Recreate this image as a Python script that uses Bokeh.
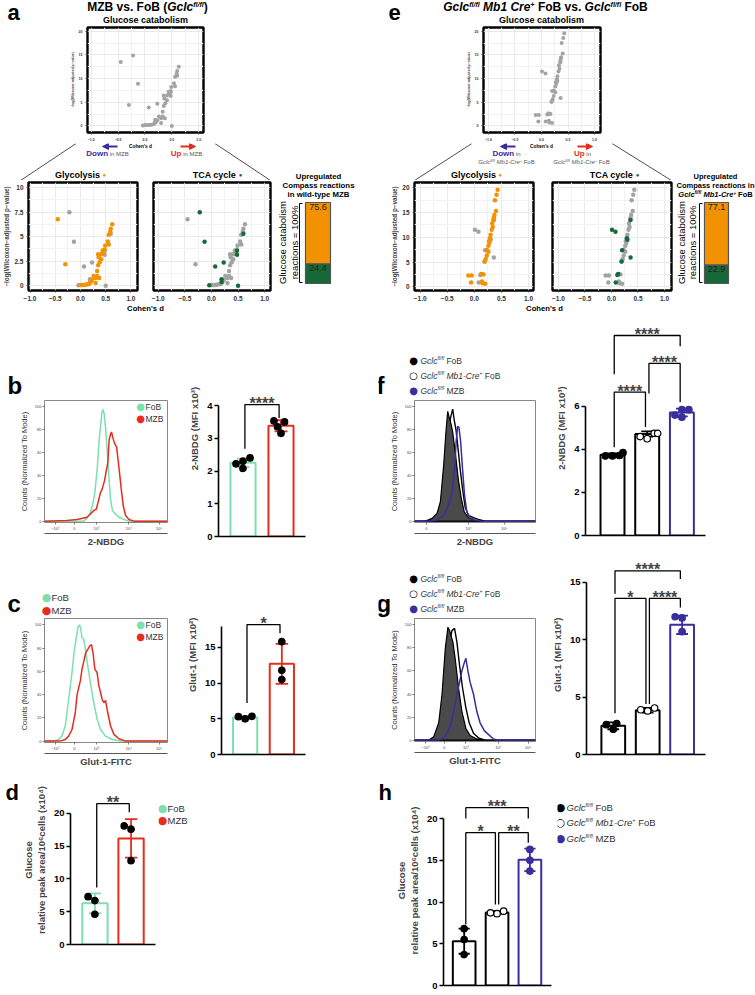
import numpy as np
from bokeh.plotting import figure
from bokeh.models import Label, Arrow, NormalHead, Range1d, FixedTicker, LinearAxis
from bokeh.layouts import row, column
from bokeh.embed import file_html
from bokeh.resources import INLINE

# ======================= DATA =======================
# Panel a: MZB vs FoB (Gclc fl/fl) Compass reactions: Cohen's d, -log(Wilcoxon adj. p)
a_gly_d = [-0.45, -0.30, 0.63, 0.60, 0.59, 0.56, 0.54, 0.56, 0.49, 0.48, 0.44, 0.35, 0.41, 0.36, 0.41, 0.38,
           0.35, 0.33, 0.33, 0.37, 0.30, 0.26, 0.23, 0.20, 0.14, 0.07, 0.03, 0.00, 0.30, 0.10, 0.17, 0.45]
a_gly_p = [6.77, 2.20, 6.27, 5.80, 5.50, 5.20, 4.50, 4.20, 4.10, 3.70, 3.60, 3.20, 3.20, 2.90, 2.70, 2.40,
           2.10, 1.50, 1.00, 0.80, 0.80, 1.00, 0.60, 0.33, 0.17, 0.10, 0.08, 0.10, 0.30, 0.12, 0.20, 3.40]
a_tca_d = [-0.22, -0.13, 0.23, 0.07, 0.60, 0.48, 0.48, 0.19, 0.19, -0.04, 0.50]
a_tca_p = [7.47, 4.47, 2.37, 1.97, 5.30, 3.57, 3.17, 0.67, 0.40, 0.07, 0.00]
# top "Glucose catabolism" volcano of panel a (its own y scale)
a_top_d = [-0.45, -0.30, 0.63, 0.60, 0.59, 0.56, 0.54, 0.56, 0.49, 0.48, 0.44, 0.35, 0.41, 0.36, 0.41, 0.38,
           0.35, 0.33, 0.33, 0.37, 0.30, 0.26, 0.23, 0.20, 0.14, 0.07, 0.03, 0.00, 0.30, 0.10, 0.17, 0.45,
           -0.22, -0.13, 0.23, 0.07, 0.60, 0.48, 0.48, 0.19, 0.19, -0.04, 0.50]
a_top_p = [13.5, 4.4, 12.5, 11.6, 11.0, 10.4, 9.0, 8.4, 8.2, 7.4, 7.2, 6.4, 6.4, 5.8, 5.4, 4.8,
           4.2, 3.0, 2.0, 1.6, 1.6, 2.0, 1.2, 0.7, 0.3, 0.2, 0.2, 0.2, 0.6, 0.2, 0.4, 6.8,
           14.9, 8.9, 4.7, 3.9, 10.6, 7.1, 6.3, 1.3, 0.8, 0.1, 0.0]
# Panel e: Gclc fl/fl Mb1-Cre+ FoB vs Gclc fl/fl FoB
e_gly_d = [0.43, 0.41, 0.38, 0.40, 0.37, 0.35, 0.34, 0.32, 0.29, 0.28, 0.26, 0.23, 0.26, 0.23, 0.21, 0.19,
           -0.11, -0.05, 0.14, 0.17, -0.06, 0.14, 0.15, 0.20, 0.30, 0.33, 0.27, 0.36]
e_gly_p = [19.6, 18.6, 17.5, 15.3, 14.5, 13.5, 12.1, 11.5, 9.8, 8.9, 8.3, 7.5, 7.1, 6.3, 5.6, 5.1,
           2.3, 2.3, 2.6, 2.5, 0.9, 1.1, 0.7, 0.6, 10.5, 12.8, 9.2, 14.0]
e_tca_d = [0.01, 0.075, 0.36, 0.29, 0.30, 0.20, 0.36, 0.19, 0.125, 0.11, 0.08]
e_tca_p = [11.5, 11.1, 13.5, 9.8, 9.5, 7.4, 5.9, 5.1, 2.6, 2.4, 0.9]
# Upregulated compass reactions (% of glucose catabolism): [glycolysis, TCA]
a_up_pct = [75.6, 24.4]
e_up_pct = [77.1, 22.9]

# Flow histograms: display channel (0-1024) vs counts (% of mode)
bc_ticks = [89, 248, 432, 703, 954]
f_ticks = [101, 457, 760]
g_ticks = [93, 253, 435, 710, 962]
bcg_tick_labels = ["\u221210\u00b3", "0", "10\u00b3", "10\u2074", "10\u2075"]
f_tick_labels = ["0", "10\u2074", "10\u2075"]

b_fob_ch = [0, 326, 354, 377, 399, 419, 438, 455, 466, 477, 485, 497, 508, 522, 536, 550, 566, 591, 619, 661, 703, 1024]
b_fob_ct = [0, 0, 2.6, 6.3, 13.5, 25, 45, 71, 82, 94, 97.7, 94, 82, 62, 39, 19, 9.2, 6.3, 3.4, 1.4, 0, 0]
b_mzb_ch = [0, 187, 271, 354, 382, 410, 432, 452, 466, 480, 499, 516, 527, 538, 550, 558, 569, 583, 600, 611,
            625, 639, 656, 675, 703, 745, 1024]
b_mzb_ct = [0, 0.6, 1.4, 3.4, 6.3, 9.2, 10.6, 19, 25, 28, 35, 45, 51, 71, 76, 78, 73, 68, 65, 55,
            42, 28, 13.2, 4.9, 1.4, 0, 0]
c_fob_ch = [0, 75, 117, 145, 173, 201, 229, 248, 265, 279, 290, 299, 312, 326, 340, 360, 382, 410, 438, 466,
            508, 564, 633, 1024]
c_fob_ct = [0, 0, 1.4, 4.3, 13, 36, 59, 78, 89, 98, 100, 98, 89, 88, 79, 65, 50, 33, 19, 10, 4.3, 1.4, 0, 0]
c_mzb_ch = [0, 131, 173, 201, 229, 257, 271, 285, 299, 312, 326, 343, 360, 377, 391, 405, 419, 438, 452, 466,
            480, 494, 508, 522, 550, 578, 619, 675, 1024]
c_mzb_ct = [0, 0, 1.4, 4.3, 10, 25, 40, 46, 52, 62, 68, 76, 79, 82, 83, 75, 62, 59, 48, 42,
            36, 33, 35, 27, 13, 5.8, 2, 0, 0]
f_fil_ch = [0, 93, 149, 191, 219, 247, 266, 281, 295, 309, 323, 345, 373, 396, 421, 457, 513, 569, 1024]
f_fil_ct = [0, 0, 2.4, 6.8, 17, 49, 78, 96, 90, 85, 78, 60, 35, 20, 8, 3, 1, 0, 0]
f_wht_ch = [0, 121, 177, 219, 247, 275, 295, 309, 323, 337, 351, 367, 387, 407, 429, 457, 499, 541, 597, 1024]
f_wht_ct = [0, 0, 3, 10, 30, 60, 85, 92, 98, 88, 80, 65, 45, 28, 12, 5, 3, 1.5, 0, 0]
f_mzb_ch = [0, 121, 191, 247, 289, 317, 339, 353, 365, 376, 390, 407, 424, 443, 471, 513, 569, 1024]
f_mzb_ct = [0, 0, 1, 5, 14, 25, 45, 70, 83, 82, 70, 45, 22, 8, 3, 1, 0, 0]
g_fil_ch = [0, 121, 163, 205, 233, 261, 283, 297, 311, 325, 345, 373, 401, 435, 471, 527, 597, 1024]
g_fil_ct = [0, 0, 3, 15, 40, 80, 98, 95, 90, 85, 70, 45, 25, 10, 4, 1, 0, 0]
g_wht_ch = [0, 149, 205, 247, 275, 297, 317, 339, 359, 381, 407, 435, 463, 499, 541, 597, 1024]
g_wht_ct = [0, 0, 5, 25, 55, 85, 95, 97, 85, 65, 45, 28, 15, 6, 2, 0, 0]
g_mzb_ch = [0, 205, 261, 303, 331, 359, 381, 401, 418, 435, 452, 471, 499, 527, 555, 592, 625, 668, 710, 1024]
g_mzb_ct = [0, 0, 3, 12, 25, 40, 50, 60, 66, 71, 60, 50, 40, 25, 15, 8, 5, 1, 0, 0]

# Bar charts (mean, SD, individual mice)
b_mean = [2.25, 3.38]; b_sd = [0.13, 0.17]
b_pts = [[2.08, 2.22, 2.30, 2.40], [3.15, 3.35, 3.50, 3.53]]
c_mean = [5.2, 12.7]; c_sd = [0.2, 2.8]
c_pts = [[5.0, 5.35, 5.3], [15.8, 11.8, 10.5]]
d_mean = [6.3, 16.2]; d_sd = [1.5, 2.95]
d_pts = [[7.3, 6.7, 4.6], [18.1, 17.6, 12.8]]
f_mean = [3.75, 4.72, 5.72]; f_sd = [0.07, 0.12, 0.18]
f_pts = [[3.70, 3.85, 3.72, 3.70], [4.75, 4.75, 4.60, 4.50], [5.85, 5.85, 5.60, 5.50]]
g_mean = [2.5, 3.85, 11.3]; g_sd = [0.3, 0.2, 0.8]
g_pts = [[2.7, 2.6, 2.2], [4.05, 3.9, 3.8], [12.0, 11.9, 10.7]]
h_mean = [5.3, 8.75, 15.05]; h_sd = [1.5, 0.15, 1.35]
h_pts = [[6.8, 5.5, 3.7], [8.9, 8.6, 8.7], [16.3, 15.0, 13.7]]

# ======================= STYLE / HELPERS =======================
FONT = "Liberation Sans"
SYM = "DejaVu Sans"
MINT = "#7be0ae"; RED = "#e62d1d"; BLUE = "#3a2d9c"; ORANGE = "#f39200"; DGREEN = "#17693a"
GREY = "#a3a3a3"; TXT = "#333333"
PI2 = np.pi / 2
BASE_SHIFT = 0.35   # rendered alphabetic baseline sits ~0.35 em below the anchor

_R = {' ': 278, '(': 333, ')': 333, '*': 389, '+': 584, '-': 333, '.': 278, '/': 278, '=': 584, '%': 889,
      "'": 191, ',': 278, '\u2212': 584, '\u25cf': 600}
for ch in "0123456789":
    _R[ch] = 556
_R.update({'A': 667, 'B': 667, 'C': 722, 'D': 722, 'E': 667, 'F': 611, 'G': 778, 'H': 722, 'I': 278, 'L': 556,
           'M': 833, 'N': 722, 'O': 778, 'P': 667, 'R': 722, 'S': 667, 'T': 611, 'U': 722, 'W': 944, 'Z': 611,
           'a': 556, 'b': 556, 'c': 500, 'd': 556, 'e': 556, 'f': 278, 'g': 556, 'h': 556, 'i': 222, 'k': 500,
           'l': 222, 'm': 833, 'n': 556, 'o': 556, 'p': 556, 'r': 333, 's': 500, 't': 278, 'u': 556, 'v': 500,
           'w': 722, 'x': 500, 'y': 500, 'z': 500})
_B = dict(_R)
_B.update({'A': 722, 'B': 722, 'L': 611, 'b': 611, 'c': 556, 'd': 611, 'f': 333, 'g': 611, 'h': 611, 'i': 278,
           'k': 556, 'l': 278, 'm': 889, 'n': 611, 'o': 611, 'p': 611, 'r': 389, 's': 556, 't': 333, 'u': 611,
           'v': 556, 'w': 778, 'x': 556, 'y': 556, "'": 238})


def tw(s, size, bold):
    t = _B if bold else _R
    return sum(t.get(ch, 556) for ch in s) * size / 1000.0


MAPS = {}


def fig(w, h, l, r, t, b, xr, yr):
    p = figure(width=w, height=h, x_range=Range1d(*xr), y_range=Range1d(*yr),
               min_border_left=l, min_border_right=r, min_border_top=t, min_border_bottom=b,
               output_backend="svg", toolbar_location=None)
    try:
        p.frame_align = False
    except AttributeError:
        pass
    p.outline_line_color = None
    p.grid.visible = False
    p.background_fill_color = "white"
    p.border_fill_color = "white"
    fw, fh = w - l - r, h - t - b

    def m(px, py):
        return (xr[0] + (px - l) / fw * (xr[1] - xr[0]), yr[1] - (py - t) / fh * (yr[1] - yr[0]))
    MAPS[id(p)] = m
    return p


def deco(w, h):
    # text / decoration panel: its data units are its own pixels (y downwards)
    p = fig(w, h, 0, 0, 0, 0, (0, w), (h, 0))
    p.axis.visible = False
    return p


def lab(p, x, y, text, size, style="normal", color="black", align="left", baseline="alphabetic",
        angle=0.0, font=FONT):
    if baseline == "alphabetic":
        if angle == 0:
            y -= BASE_SHIFT * size
        else:
            x -= BASE_SHIFT * size
    dx, dy = MAPS[id(p)](x, y)
    p.add_layout(Label(x=dx, y=dy, text=text, text_font=font,
                       text_font_size=f"{size}px", text_font_style=style, text_color=color,
                       text_align=align, text_baseline=baseline, angle=angle))


def letter(p, x, h, text, size=23):
    # panel letter sitting at the bottom of its strip, with its descent kept inside
    lab(p, x, h - 0.22 * size, text, size, "bold")


def rich(p, x, y, segs, align="center"):
    # segs: (text, size, bold, italic, color, rise)
    ws = [tw(s[0], s[1], s[2]) for s in segs]
    total = sum(ws)
    pos = -{"left": 0.0, "center": total / 2.0, "right": total}[align]
    for s, w in zip(segs, ws):
        text, size, bold, italic, color, rise = s
        style = ("bold " if bold else "") + ("italic" if italic else "")
        style = style.strip() or "normal"
        core = text.lstrip(" ")
        lead = tw(text[:len(text) - len(core)], size, bold)
        if core.strip():
            lab(p, x + pos + lead, y - rise, core, size, style, color, "left", "alphabetic")
        pos += w


def seg(p, x0, y0, x1, y1, color="black", w=1.0, head=None):
    m = MAPS[id(p)]
    (a0, b0), (a1, b1) = m(x0, y0), m(x1, y1)
    p.add_layout(Arrow(x_start=a0, y_start=b0, x_end=a1, y_end=b1, end=head, line_color=color, line_width=w))


def style_axes(p, fs, bold=True, color=TXT, tick_out=2, tick_w=0.8, standoff=1):
    for ax in p.axis:
        ax.major_tick_line_color = color
        ax.major_tick_out = tick_out
        ax.major_tick_in = 0
        ax.major_tick_line_width = tick_w
        ax.minor_tick_line_color = None
        ax.major_label_text_font = FONT
        ax.major_label_text_font_size = f"{fs}px"
        ax.major_label_text_font_style = "bold" if bold else "normal"
        ax.major_label_text_color = color
        ax.major_label_standoff = standoff
        ax.axis_label_text_font = FONT


def volcano(w, h, l, r, t, b, xr, yr, yt, ylabels, layers, fs, ps, ylab=None, ylab_fs=6.3, show_y=True):
    p = fig(w, h, l, r, t, b, xr, yr)
    p.outline_line_color = "black"
    p.outline_line_width = 2.4
    p.grid.visible = True
    xt = [-1, -0.5, 0, 0.5, 1]
    p.xaxis.ticker = FixedTicker(ticks=xt, minor_ticks=[-0.75, -0.25, 0.25, 0.75])
    p.xaxis.major_label_overrides = {-1: "\u22121.0", -0.5: "\u22120.5", 0: "0.0", 0.5: "0.5", 1: "1.0"}
    mt = [(yt[k] + yt[k + 1]) / 2.0 for k in range(len(yt) - 1)]
    p.yaxis.ticker = FixedTicker(ticks=yt, minor_ticks=mt)
    p.yaxis.major_label_overrides = {v: s for v, s in zip(yt, ylabels)}
    p.grid.grid_line_color = "#e4e4e4"
    p.grid.minor_grid_line_color = "#f2f2f2"
    p.grid.grid_line_width = 0.8
    style_axes(p, fs)
    for ax in p.axis:
        ax.axis_line_color = None
    if ylab:
        p.yaxis.axis_label = ylab
        p.yaxis.axis_label_text_font_size = f"{ylab_fs}px"
        p.yaxis.axis_label_text_font_style = "bold"
        p.yaxis.axis_label_standoff = 1
    if not show_y:
        p.yaxis.visible = False
    for xs, ys, c in layers:
        p.scatter(xs, ys, size=ps, fill_color=c, line_color=None)
    return p


def hist(w, h, l, r, t, b, ticks, tlabels, curves, xlabel):
    p = fig(w, h, l, r, t, b, (0, 1024), (-1.2, 105.5))
    p.outline_line_color = "#7a7a7a"
    p.outline_line_width = 0.9
    p.xaxis.ticker = FixedTicker(ticks=ticks)
    p.xaxis.major_label_overrides = {k: v for k, v in zip(ticks, tlabels)}
    p.yaxis.ticker = FixedTicker(ticks=[0, 20, 40, 60, 80, 100])
    style_axes(p, 4, bold=False, color="#444444", tick_w=0.7)
    for ax in p.axis:
        ax.axis_line_color = None
    p.yaxis.axis_label = "Counts (Normalized To Mode)"
    p.yaxis.axis_label_text_font_size = "7.5px"
    p.yaxis.axis_label_text_font_style = "normal"
    p.yaxis.axis_label_text_color = TXT
    p.yaxis.axis_label_standoff = 3
    # second, tick-less axis below the tick labels: its line is the FlowJo-style arrow line
    ax2 = LinearAxis(ticker=FixedTicker(ticks=[]), axis_line_color="#555555", axis_line_width=1.1,
                     major_label_text_font_size="4px", axis_label=xlabel, axis_label_text_font=FONT,
                     axis_label_text_font_size="9.5px", axis_label_text_font_style="bold",
                     axis_label_standoff=2)
    p.add_layout(ax2, "below")
    for kind, xs, ys, col in curves:
        if kind == "line":
            p.line(xs, ys, line_color=col, line_width=1.5)
        elif kind == "open":
            p.patch(xs, ys, fill_color="white", line_color=col, line_width=1.4)
        else:
            p.patch(xs, ys, fill_color="#4a4a4a", line_color="black", line_width=1.2)
    return p


def swarm(vals, ypx, xpx, d=7.0):
    placed = []
    res = [0.0] * len(vals)
    for i in sorted(range(len(vals)), key=lambda k: vals[k]):
        ox = 0.0
        for k in (0, -1, 1, -2, 2, -3, 3):
            ox = k * d * 0.5
            if all((ox - px) ** 2 + ((vals[i] - pv) * ypx) ** 2 >= (d * 0.95) ** 2 for px, pv in placed):
                break
        placed.append((ox, vals[i]))
        res[i] = ox / xpx
    return res


def bars(w, h, l, r, t, b, xr, yr, ybound, yt, means, sds, pts, edges, fills, plines, barw, brackets, ylab,
         tfs=9.5, lfs=9.5):
    p = fig(w, h, l, r, t, b, xr, yr)
    n = len(means)
    xs = [k + 1 for k in range(n)]
    xpx = (w - l - r) / (xr[1] - xr[0])
    ypx = (h - t - b) / (yr[1] - yr[0])
    p.vbar(x=xs, top=means, bottom=0, width=barw, fill_color="white", line_color=edges, line_width=2)
    lo = [m - s for m, s in zip(means, sds)]
    hi = [m + s for m, s in zip(means, sds)]
    cw = 0.17
    p.segment(x0=xs, y0=lo, x1=xs, y1=hi, line_color=edges, line_width=1.8)
    p.segment(x0=[x - cw for x in xs], y0=hi, x1=[x + cw for x in xs], y1=hi, line_color=edges, line_width=1.8)
    p.segment(x0=[x - cw for x in xs], y0=lo, x1=[x + cw for x in xs], y1=lo, line_color=edges, line_width=1.8)
    for k in range(n):
        offs = swarm(pts[k], ypx, xpx)
        p.scatter([xs[k] + o for o in offs], pts[k], size=6.5, fill_color=fills[k], line_color=plines[k],
                  line_width=1.2)
    p.yaxis.ticker = FixedTicker(ticks=yt)
    p.yaxis.bounds = ybound
    p.xaxis.ticker = FixedTicker(ticks=[])
    style_axes(p, tfs, color="black", tick_out=4, tick_w=1.6, standoff=2)
    for ax in p.axis:
        ax.axis_line_width = 1.6
        ax.axis_line_color = "black"
    p.yaxis.axis_label = ylab
    p.yaxis.axis_label_text_font_size = f"{lfs}px"
    p.yaxis.axis_label_text_font_style = "bold"
    p.yaxis.axis_label_standoff = 4
    for (i, j, txt, yb, yl, yr_) in brackets:
        xi, xj = i + 1 + 0.05, j + 1 - 0.05
        p.line([xi, xi, xj, xj], [yl, yb, yb, yr_], line_color="black", line_width=1.3)
        p.add_layout(Label(x=(xi + xj) / 2.0, y=yb, text=txt, text_align="center", text_baseline="alphabetic",
                           y_offset=1, text_font=FONT, text_font_size="16px", text_font_style="bold"))
    return p


def legend_rows(p, x_dot, x_txt, ys, markers, texts, size):
    for y, (sym, col), segs in zip(ys, markers, texts):
        lab(p, x_dot, y, sym, size + 1.5, "normal", col, "center", "middle", font=SYM)
        rich(p, x_txt, y + size * 0.36, segs, align="left")


def gclc(size, tail, color=TXT, bold=False):
    return [("Gclc", size, bold, True, color, 0), ("fl/fl", size * 0.6, bold, True, color, size * 0.4)] + tail


def stackbar(w, h, bx0, bx1, by0, by1, pct):
    xr = (-bx0 / (bx1 - bx0), 1 + (w - bx1) / (bx1 - bx0))
    k = 100.0 / (by1 - by0)
    yr = (-(h - by1) * k, 100 + by0 * k)
    p = fig(w, h, 0, 0, 0, 0, xr, yr)
    p.axis.visible = False
    gly, tca = pct
    p.vbar(x=[0.5], width=1, bottom=[0], top=[tca], fill_color=DGREEN, line_color="#555555", line_width=1.2)
    p.vbar(x=[0.5], width=1, bottom=[tca], top=[tca + gly], fill_color=ORANGE, line_color="#555555",
           line_width=1.2)
    for v, top in ((gly, tca + gly), (tca, tca)):
        p.add_layout(Label(x=0.5, y=top, text=f"{v}", text_align="center", text_baseline="top", y_offset=-1,
                           text_font=FONT, text_font_size="9px", text_color="#222222"))
    return p


YLAB = "\u2212log(Wilcoxon\u2212adjusted p\u2212value)"

# ======================= BAND A : panels a & e (y 0-315) =======================
A_title = deco(273, 25)
letter(A_title, 7, 25, "a", 22)
rich(A_title, 147, 11, [("MZB vs. FoB (", 12, True, False, "black", 0), ("Gclc", 12, True, True, "black", 0),
                        ("fl/fl", 7, True, True, "black", 5), (")", 12, True, False, "black", 0)])
lab(A_title, 145, 23, "Glucose catabolism", 9, "bold", "black", "center")

a_top = volcano(273, 118, 87, 70, 2, 8, (-1.07, 1.09), (-1.4, 20.8), [0, 5, 10, 15, 20],
                ["0", "5", "10", "15", "20"], [(a_top_d, a_top_p, GREY)], 3.5, 4, ylab=YLAB, ylab_fs=3.5)

A_deco = deco(273, 37)
lab(A_deco, 140, 5, "Cohen's d", 4.8, "bold", "black", "center")
seg(A_deco, 117, 3, 102, 3, BLUE, 2, NormalHead(size=6, fill_color=BLUE, line_color=BLUE))
seg(A_deco, 180, 3, 195, 3, RED, 2, NormalHead(size=6, fill_color=RED, line_color=RED))
rich(A_deco, 107, 13, [("Down", 8, True, False, BLUE, 0), (" in MZB", 6, False, False, "#555555", 0)])
rich(A_deco, 186, 13, [("Up", 8, True, False, RED, 0), (" in MZB", 6, False, False, "#555555", 0)])
seg(A_deco, 75.6, 0, 20, 37, "#222222", 0.8)
seg(A_deco, 214.4, 0, 270, 37, "#222222", 0.8)
rich(A_deco, 80, 34.5, [("Glycolysis ", 9, True, False, "black", 0), ("\u25cf", 6, False, False, ORANGE, 1)])
rich(A_deco, 217, 34.5, [("TCA cycle ", 9, True, False, "black", 0), ("\u25cf", 6, False, False, DGREEN, 1)])

ylab5 = ["0", "2.5", "5", "7.5", "10"]
glyco_a = volcano(145, 123, 21, 8, 2, 11, (-1.03, 1.13), (-0.47, 10.5), [0, 2.5, 5, 7.5, 10], ylab5,
                  [(a_tca_d, a_tca_p, GREY), (a_gly_d, a_gly_p, ORANGE)], 6.5, 4.5, ylab=YLAB)
tca_a = volcano(128, 123, 8, 3, 2, 11, (-1.09, 1.11), (-0.47, 10.5), [0, 2.5, 5, 7.5, 10], ylab5,
                [(a_gly_d, a_gly_p, GREY), (a_tca_d, a_tca_p, DGREEN)], 6.5, 4.5, show_y=False)
strip_a = deco(273, 12)
lab(strip_a, 145, 8, "Cohen's d", 7.7, "bold", "black", "center")

stack_a = stackbar(105, 315, 32, 57, 202, 283, a_up_pct)
lab(stack_a, 45, 179, "Upregulated", 7.8, "bold", "black", "center")
lab(stack_a, 45, 188, "Compass reactions", 7.8, "bold", "black", "center")
lab(stack_a, 45, 197, "in wild-type MZB", 7.8, "bold", "black", "center")
lab(stack_a, 12, 242, "Glucose catabolism", 9.5, "normal", "black", "center", "alphabetic", PI2)
lab(stack_a, 24, 242, "reactions = 100%", 9.5, "normal", "black", "center", "alphabetic", PI2)
seg(stack_a, 26, 203, 26, 282, "black", 1)
seg(stack_a, 26, 203, 29, 203, "black", 1)
seg(stack_a, 26, 282, 29, 282, "black", 1)

E_title = deco(295, 25)
letter(E_title, 10, 25, "e", 22)
rich(E_title, 167, 11, [("Gclc", 12, True, True, "black", 0), ("fl/fl", 7, True, True, "black", 5),
                        (" Mb1 Cre", 12, True, True, "black", 0), ("+", 7, True, False, "black", 5),
                        (" FoB vs. ", 12, True, False, "black", 0), ("Gclc", 12, True, True, "black", 0),
                        ("fl/fl", 7, True, True, "black", 5), (" FoB", 12, True, False, "black", 0)])
lab(E_title, 163, 23, "Glucose catabolism", 9, "bold", "black", "center")

e_top = volcano(295, 118, 105, 73, 2, 8, (-1.094, 1.113), (-1.4, 20.8), [0, 5, 10, 15, 20],
                ["0", "5", "10", "15", "20"], [(e_gly_d + e_tca_d, e_gly_p + e_tca_p, GREY)], 3.5, 4,
                ylab=YLAB, ylab_fs=3.5)

E_deco = deco(295, 37)
lab(E_deco, 163, 5, "Cohen's d", 4.8, "bold", "black", "center")
seg(E_deco, 137, 3, 122, 3, BLUE, 2, NormalHead(size=6, fill_color=BLUE, line_color=BLUE))
seg(E_deco, 199, 3, 214, 3, RED, 2, NormalHead(size=6, fill_color=RED, line_color=RED))
rich(E_deco, 128, 13, [("Down", 8, True, False, BLUE, 0), (" in", 6, False, False, "#555555", 0)])
rich(E_deco, 204, 13, [("Up", 8, True, False, RED, 0), (" in", 6, False, False, "#555555", 0)])
sub_e = gclc(6, [(" Mb1-Cre", 6, False, True, "#555555", 0), ("+", 3.6, False, False, "#555555", 2.4),
                 (" FoB", 6, False, False, "#555555", 0)], color="#555555")
rich(E_deco, 128, 21, sub_e)
rich(E_deco, 203, 21, sub_e)
seg(E_deco, 93.4, 0, 36, 37, "#222222", 0.8)
seg(E_deco, 233.6, 0, 293, 37, "#222222", 0.8)
rich(E_deco, 98, 34.5, [("Glycolysis ", 9, True, False, "black", 0), ("\u25cf", 6, False, False, ORANGE, 1)])
rich(E_deco, 236, 34.5, [("TCA cycle ", 9, True, False, "black", 0), ("\u25cf", 6, False, False, DGREEN, 1)])

ylab20 = ["0", "5", "10", "15", "20"]
glyco_e = volcano(170, 123, 36, 15, 2, 11, (-1.105, 1.092), (-0.74, 21.06), [0, 5, 10, 15, 20], ylab20,
                  [(e_tca_d, e_tca_p, GREY), (e_gly_d, e_gly_p, ORANGE)], 6.5, 4.5, ylab=YLAB)
tca_e = volcano(125, 123, 4, 2, 2, 11, (-1.113, 1.132), (-0.74, 21.06), [0, 5, 10, 15, 20], ylab20,
                [(e_gly_d, e_gly_p, GREY), (e_tca_d, e_tca_p, DGREEN)], 6.5, 4.5, show_y=False)
strip_e = deco(295, 12)
lab(strip_e, 166, 8, "Cohen's d", 7.7, "bold", "black", "center")

stack_e = stackbar(82, 315, 31, 55, 202, 283, e_up_pct)
lab(stack_e, 42, 179, "Upregulated", 7.5, "bold", "black", "center")
lab(stack_e, 42, 188, "Compass reactions in", 7.5, "bold", "black", "center")
rich(stack_e, 42, 197, gclc(7.5, [(" Mb1-Cre", 7.5, True, True, "black", 0), ("+", 4.5, True, False, "black", 3),
                                  (" FoB", 7.5, True, False, "black", 0)], color="black", bold=True))
lab(stack_e, 11, 242, "Glucose catabolism", 9.5, "normal", "black", "center", "alphabetic", PI2)
lab(stack_e, 22, 242, "reactions = 100%", 9.5, "normal", "black", "center", "alphabetic", PI2)
seg(stack_e, 26, 203, 26, 282, "black", 1)
seg(stack_e, 26, 203, 29, 203, "black", 1)
seg(stack_e, 26, 282, 29, 282, "black", 1)

# ======================= BAND B : panels b & f (y 315-552) =======================
B_top = deco(183, 84)
letter(B_top, 7, 84, "b", 24)
hist_b = hist(183, 153, 44, 16, 1, 30, bc_ticks, bcg_tick_labels,
              [("line", b_fob_ch, b_fob_ct, MINT), ("line", b_mzb_ch, b_mzb_ct, RED)], "2-NBDG")
legend_rows(hist_b, 140, 145, [7, 19], [("\u25cf", MINT), ("\u25cf", RED)],
            [[("FoB", 8.5, False, False, TXT, 0)], [("MZB", 8.5, False, False, TXT, 0)]], 8.5)

bar_b = bars(195, 237, 35, 73, 0, 16, (0.355, 2.645), (0, 6.75), (0, 4), [0, 1, 2, 3, 4], b_mean, b_sd, b_pts,
             [MINT, RED], ["black", "black"], ["black", "black"], 0.66, [(0, 1, "****", 4.03, 2.68, 3.62)],
             "2-NBDG  (MFI  x10\u00b3)")

F_top = deco(170, 84)
letter(F_top, -2, 84, "f", 24)
leg3 = [gclc(8.5, [(" FoB", 8.5, False, False, TXT, 0)]),
        gclc(8.5, [(" Mb1-Cre", 8.5, False, True, TXT, 0), ("+", 5, False, False, TXT, 3.5),
                   (" FoB", 8.5, False, False, TXT, 0)]),
        gclc(8.5, [(" MZB", 8.5, False, False, TXT, 0)])]
mk3 = [("\u25cf", "black"), ("\u25cb", "black"), ("\u25cf", BLUE)]
legend_rows(F_top, 35, 42, [45, 60, 75], mk3, leg3, 8.5)
hist_f = hist(170, 153, 36, 13, 1, 30, f_ticks, f_tick_labels,
              [("open", f_wht_ch, f_wht_ct, "black"), ("fill", f_fil_ch, f_fil_ct, "black"),
               ("line", f_mzb_ch, f_mzb_ct, BLUE)], "2-NBDG")

bar_f = bars(207, 237, 37, 50, 0, 17, (0.222, 3.68), (0, 10.23), (0, 6), [0, 2, 4, 6], f_mean, f_sd, f_pts,
             ["black", "black", BLUE], ["black", "white", BLUE], ["black", "black", BLUE], 0.69,
             [(0, 1, "****", 6.67, 4.1, 5.04), (1, 2, "****", 8.0, 6.6, 6.2), (0, 2, "****", 9.3, 7.5, 8.8)],
             "2-NBDG  (MFI  x10\u00b3)")

# ======================= BAND C : panels c & g (y 552-775) =======================
C_top = deco(183, 65)
letter(C_top, 7, 65, "c", 24)
legend_rows(C_top, 46, 51, [45, 58], [("\u25cf", MINT), ("\u25cf", RED)],
            [[("FoB", 9.5, False, False, TXT, 0)], [("MZB", 9.5, False, False, TXT, 0)]], 9.5)
hist_c = hist(183, 158, 44, 16, 1, 33, bc_ticks, bcg_tick_labels,
              [("line", c_fob_ch, c_fob_ct, MINT), ("line", c_mzb_ch, c_mzb_ct, RED)], "Glut-1-FITC")
legend_rows(hist_c, 140, 145, [7, 19], [("\u25cf", MINT), ("\u25cf", RED)],
            [[("FoB", 8.5, False, False, TXT, 0)], [("MZB", 8.5, False, False, TXT, 0)]], 8.5)

bar_c = bars(195, 223, 35, 73, 0, 21, (0.355, 2.645), (0, 28.3), (0, 18), [0, 5, 10, 15], c_mean, c_sd, c_pts,
             [MINT, RED], ["black", "black"], ["black", "black"], 0.66, [(0, 1, "*", 18.2, 7.2, 17.0)],
             "Glut-1 (MFI  x10\u00b2)")

G_top = deco(170, 65)
letter(G_top, -2, 65, "g", 24)
legend_rows(G_top, 35, 42, [26, 41, 56], mk3, leg3, 8.5)
hist_g = hist(170, 158, 36, 13, 1, 34, g_ticks, bcg_tick_labels,
              [("open", g_wht_ch, g_wht_ct, "black"), ("fill", g_fil_ch, g_fil_ct, "black"),
               ("line", g_mzb_ch, g_mzb_ct, BLUE)], "Glut-1-FITC")

bar_g = bars(207, 223, 37, 50, 0, 21, (0.222, 3.68), (0, 17.6), (0, 15), [0, 5, 10, 15], g_mean, g_sd, g_pts,
             ["black", "black", BLUE], ["black", "white", BLUE], ["black", "black", BLUE], 0.69,
             [(0, 1, "*", 13.6, 3.6, 4.4), (1, 2, "****", 13.6, 4.4, 12.8), (0, 2, "****", 16.0, 14.0, 15.3)],
             "Glut-1 (MFI  x10\u00b2)")

# ======================= BAND D : panels d & h (y 775-995) =======================
GLU = "Glucose\nrelative peak area/10\u2076cells (x10\u2074)"
D_letter = deco(19, 220)
lab(D_letter, 5, 25, "d", 22, "bold")
bar_d = bars(139, 220, 49, 3, 0, 51, (0.324, 2.676), (0, 25.8), (0, 20), [0, 5, 10, 15, 20], d_mean, d_sd,
             d_pts, [MINT, RED], ["black", "black"], ["black", "black"], 0.70, [(0, 1, "**", 21.5, 8.7, 20.2)],
             GLU)
D_leg = deco(220, 220)
legend_rows(D_leg, 4, 9, [33, 45], [("\u25cf", MINT), ("\u25cf", RED)],
            [[("FoB", 9.5, False, False, TXT, 0)], [("MZB", 9.5, False, False, TXT, 0)]], 9.5)

H_letter = deco(14, 220)
lab(H_letter, 0, 25, "h", 22, "bold")
bar_h = bars(165, 220, 44, 6, 0, 10, (0.371, 3.657), (0, 25.15), (0, 20), [0, 5, 10, 15, 20], h_mean, h_sd,
             h_pts, ["black", "black", BLUE], ["black", "white", BLUE], ["black", "black", BLUE], 0.69,
             [(0, 1, "*", 18.3, 7.3, 9.7), (1, 2, "**", 18.3, 9.7, 17.1), (0, 2, "***", 21.3, 20.0, 20.0)],
             GLU)
H_leg = deco(198, 220)
legend_rows(H_leg, 3, 9, [32, 47, 63], mk3,
            [gclc(9.5, [(" FoB", 9.5, False, False, TXT, 0)]),
             gclc(9.5, [(" Mb1-Cre", 9.5, False, True, TXT, 0), ("+", 5.5, False, False, TXT, 4),
                        (" FoB", 9.5, False, False, TXT, 0)]),
             gclc(9.5, [(" MZB", 9.5, False, False, TXT, 0)])], 9.5)

# ======================= LAYOUT =======================
bandA = row(column(A_title, a_top, A_deco, row(glyco_a, tca_a), strip_a), stack_a,
            column(E_title, e_top, E_deco, row(glyco_e, tca_e), strip_e), stack_e)
bandB = row(column(B_top, hist_b), bar_b, column(F_top, hist_f), bar_f)
bandC = row(column(C_top, hist_c), bar_c, column(G_top, hist_g), bar_g)
bandD = row(D_letter, bar_d, D_leg, H_letter, bar_h, H_leg)
layout = column(bandA, bandB, bandC, bandD)

open("out.html", "w").write(file_html(layout, INLINE))
